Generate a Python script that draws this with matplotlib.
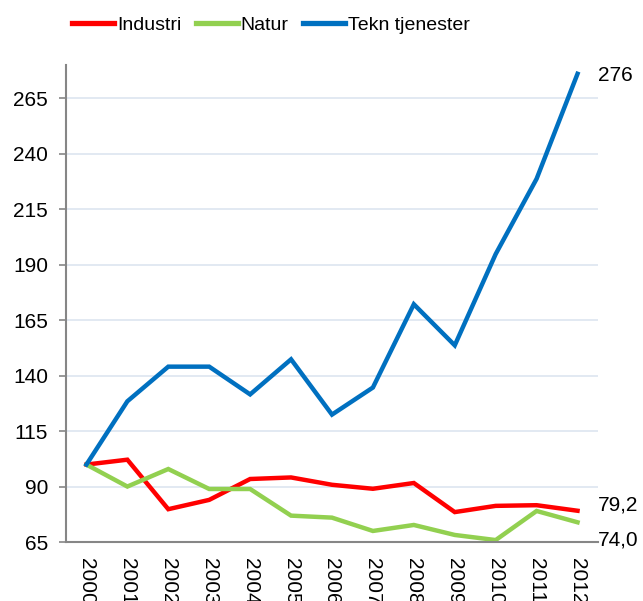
import matplotlib
matplotlib.use("Agg")
import matplotlib.pyplot as plt

plt.rcParams['font.family'] = ['Liberation Sans', 'DejaVu Sans']

years = list(range(2000, 2013))
industri = [100, 102.2, 79.9, 84.1, 93.5, 94.2, 90.9, 89.1, 91.7, 78.6, 81.4, 81.7, 79.2]
natur = [100, 90.1, 98.0, 89.0, 89.0, 77.0, 76.1, 70.1, 72.8, 68.3, 66.0, 79.1, 74.0]
tekn = [100, 128.5, 144.1, 144.1, 131.6, 147.4, 122.5, 134.7, 172.2, 153.7, 194.8, 228.7, 276]
y_ticks = [65, 90, 115, 140, 165, 190, 215, 240, 265]

fig = plt.figure(figsize=(6.43, 6.01), dpi=100)
ax = fig.add_axes([0.1026, 0.0977, 0.8274, 0.7943])

ax.plot(years, industri, color="#ff0000", lw=3.2, label="Industri", solid_joinstyle="miter")
ax.plot(years, natur, color="#92d050", lw=3.2, label="Natur", solid_joinstyle="miter")
ax.plot(years, tekn, color="#0070c0", lw=3.2, label="Tekn tjenester", solid_joinstyle="miter")

ax.set_xlim(1999.5, 2012.5)
ax.set_ylim(65, 280)
ax.set_yticks(y_ticks)
ax.set_xticks(years)
ax.set_xticklabels([str(y) for y in years], rotation=270, va="top", ha="center")
ax.tick_params(axis="y", labelsize=15, length=5, width=1.2, color="#868686", pad=8)
ax.tick_params(axis="x", labelsize=15, length=0, pad=11)

ax.grid(axis="y", color="#dde5f0", lw=1.2)
ax.set_axisbelow(True)
for s in ["top", "right"]:
    ax.spines[s].set_visible(False)
for s in ["left", "bottom"]:
    ax.spines[s].set_color("#868686")
    ax.spines[s].set_linewidth(1.5)

# end labels
ax.annotate("276", (years[-1], tekn[-1]), xytext=(15, -1), textcoords="offset points",
            fontsize=15, va="center", annotation_clip=False)
ax.annotate("79,2", (years[-1], industri[-1]), xytext=(15, 4), textcoords="offset points",
            fontsize=15, va="center", annotation_clip=False)
ax.annotate("74,0", (years[-1], natur[-1]), xytext=(15, -13), textcoords="offset points",
            fontsize=15, va="center", annotation_clip=False)

leg = fig.legend(loc="center", bbox_to_anchor=(0.4215, 0.958), ncol=3, frameon=False,
                 fontsize=14, handlelength=2.16, handletextpad=0.15, columnspacing=0.75)
for h in leg.get_lines():
    h.set_linewidth(3.8)

fig.savefig("out.png", dpi=100)
